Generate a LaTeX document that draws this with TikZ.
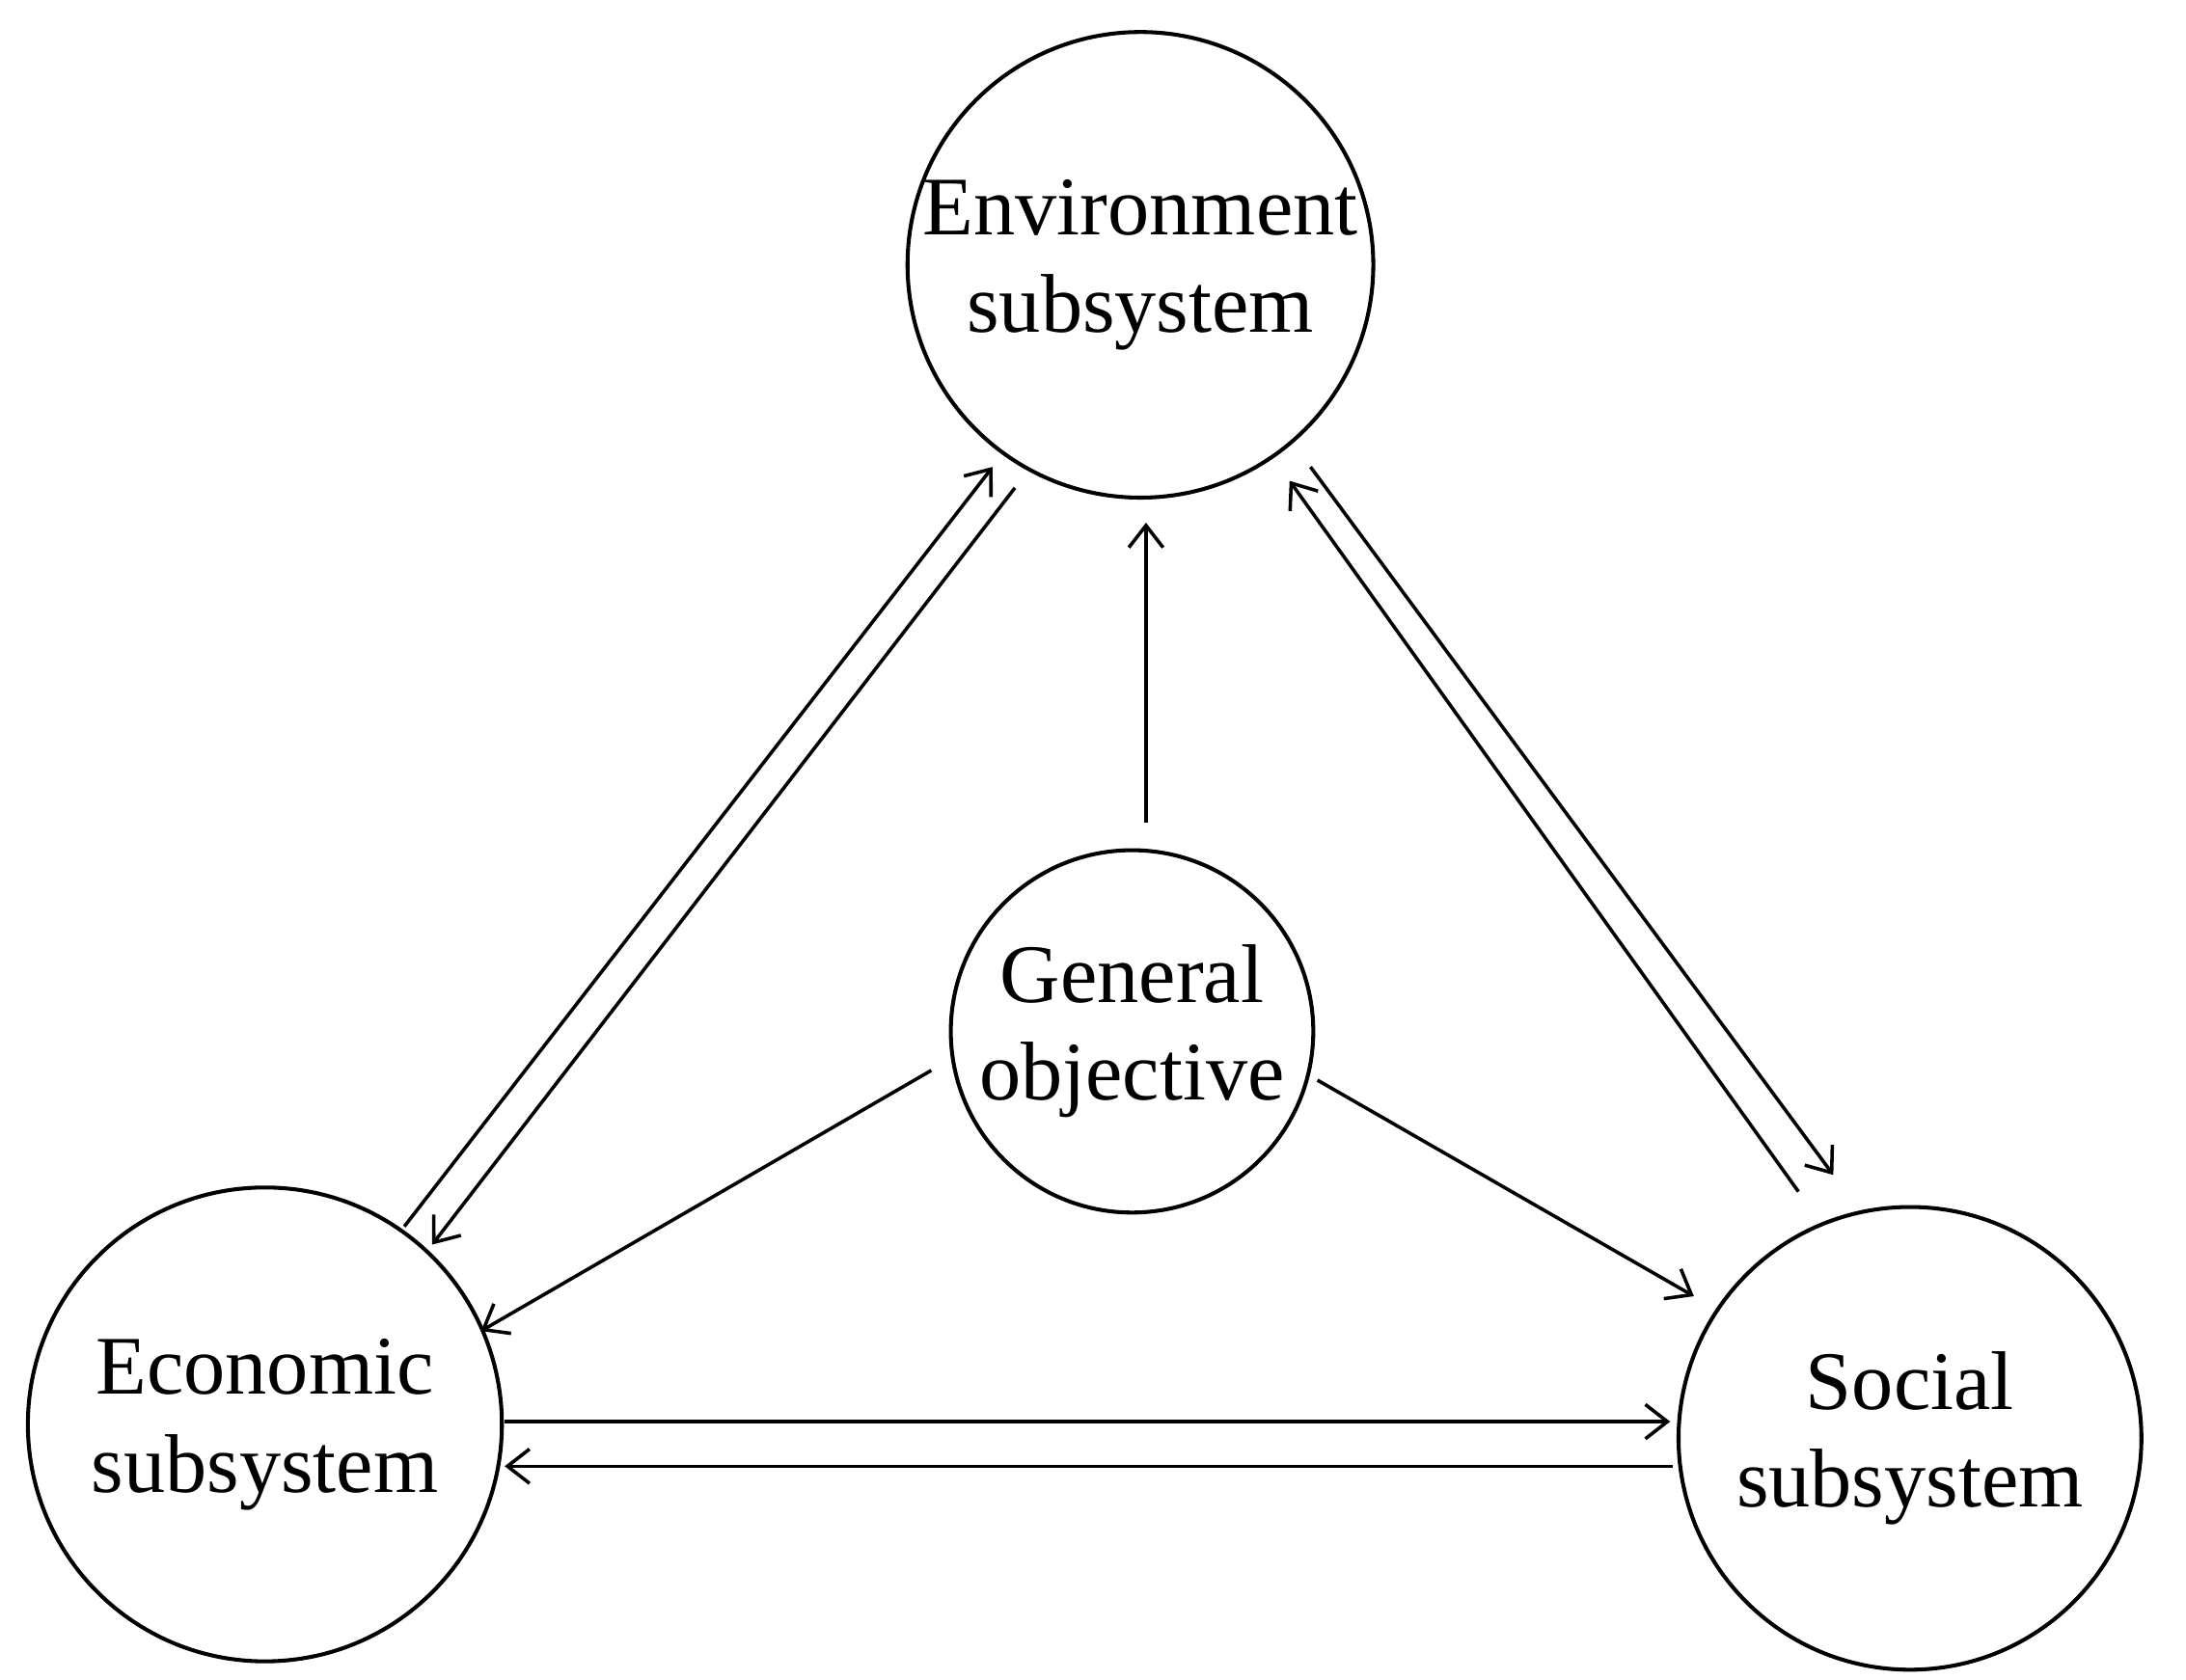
\documentclass[tikz,border=0pt]{standalone}
\usepackage{fontspec}
\setmainfont{Liberation Serif}
\usetikzlibrary{arrows.meta}
\begin{document}
\begin{tikzpicture}[x={(0.02cm,0)},y={(0,-0.02cm)},
  circ/.style={draw,circle,line width=1.6pt,align=center,inner sep=0pt,font=\fontsize{34}{40}\selectfont},
  arr/.style={->,line width=1.4pt,>={Straight Barb[length=9pt,width=14pt,line width=1.4pt]}}]
\useasboundingbox (0,0) rectangle (1568,1205);
\node[circ,minimum size=330*0.02cm] (env) at (818,190) {Environment\\subsystem};
\node[circ,minimum size=260*0.02cm] (gen) at (812,740) {General\\objective};
\node[circ,minimum size=340*0.02cm] (eco) at (190,1022) {Economic\\subsystem};
\node[circ,minimum size=332*0.02cm] (soc) at (1370,1032) {Social\\subsystem};
\coordinate (a1) at (290,880); \coordinate (a2) at (712,335);
\coordinate (b1) at (728,350); \coordinate (b2) at (310,893);
\coordinate (c1) at (1290,855); \coordinate (c2) at (925,345);
\coordinate (d1) at (940,335); \coordinate (d2) at (1315,843);
\coordinate (e1) at (362,1020); \coordinate (e2) at (1198,1020);
\coordinate (f1) at (1200,1052); \coordinate (f2) at (362,1052);
\coordinate (g1) at (668,768); \coordinate (g2) at (345,955);
\coordinate (h1) at (945,775); \coordinate (h2) at (1215,930);
\coordinate (i1) at (822,590); \coordinate (i2) at (822,375);
\foreach \s/\t in {a1/a2,b1/b2,c1/c2,d1/d2,e1/e2,f1/f2,g1/g2,h1/h2,i1/i2}
  \draw[arr] (\s) -- (\t);
\end{tikzpicture}
\end{document}
